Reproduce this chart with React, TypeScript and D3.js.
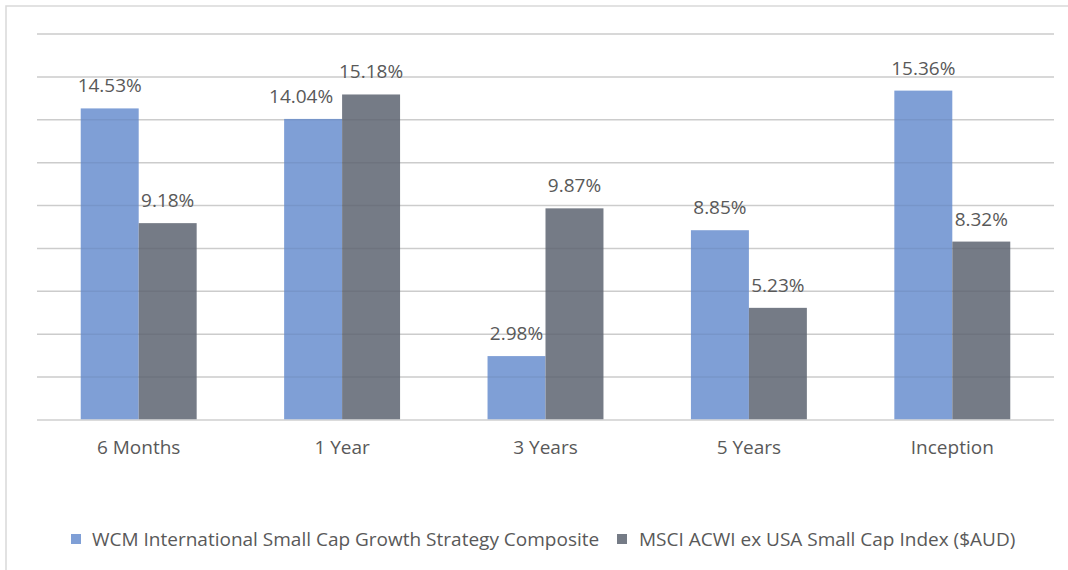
import React from "react";
import * as d3 from "d3";

const categories = ["6 Months", "1 Year", "3 Years", "5 Years", "Inception"];
const seriesNames = [
  "WCM International Small Cap Growth Strategy Composite",
  "MSCI ACWI ex USA Small Cap Index ($AUD)",
];
const wcmValues = [14.53, 14.04, 2.98, 8.85, 15.36];
const msciValues = [9.18, 15.18, 9.87, 5.23, 8.32];
const yTicks = [0, 2, 4, 6, 8, 10, 12, 14, 16, 18];
const colors = ["#7F9FD6", "#757B86"];

const W = 1068;
const H = 570;
const FONT = "'Open Sans', sans-serif";
const TEXT = "#595959";

export default function App() {
  const plotLeft = 37;
  const plotRight = 1054;
  const plotTop = 34;
  const plotBottom = 420;

  const x = d3
    .scaleBand<string>()
    .domain(categories)
    .range([plotLeft, plotRight])
    .paddingInner(0.43)
    .paddingOuter(0.215);
  const xs = d3.scaleBand<number>().domain([0, 1]).range([0, x.bandwidth()]);
  const y = d3.scaleLinear().domain([0, 18]).range([plotBottom, plotTop]);

  const series = [wcmValues, msciValues];

  const legendItems = [
    { sq: 71, tx: 92 },
    { sq: 617, tx: 639 },
  ];

  // simple collision avoidance: shift first-series label left when the neighbouring bar top cuts through it
  const labelShift = (si: number, i: number) => {
    if (si !== 0) return 0;
    const labelBaseline = y(wcmValues[i]) - 16;
    const otherTop = y(msciValues[i]);
    return otherTop < labelBaseline && otherTop > labelBaseline - 20 ? -12 : 0;
  };

  return (
    <svg
      width={W}
      height={H}
      style={{ position: "absolute", left: 0, top: 0, background: "#fff" }}
      fontFamily={FONT}
    >
      <rect x={6} y={6} width={W + 20} height={H + 20} fill="#fff" stroke="#D9D9D9" strokeWidth={1.5} />
      {yTicks.map((t) => (
        <line key={"g" + t} x1={plotLeft} x2={plotRight} y1={y(t)} y2={y(t)} stroke="#D9D9D9" strokeWidth={1.5} />
      ))}
      {series.map((vals, si) =>
        vals.map((v, i) => (
          <rect
            key={`b${si}-${i}`}
            x={(x(categories[i]) as number) + (xs(si) as number)}
            y={y(v)}
            width={xs.bandwidth()}
            height={y(0) - y(v)}
            fill={colors[si]}
          />
        ))
      )}
      {yTicks.slice(1).map((t) => (
        <line key={"o" + t} x1={plotLeft} x2={plotRight} y1={y(t)} y2={y(t)} stroke="#000" strokeOpacity={0.06} strokeWidth={1.5} />
      ))}
      <line x1={plotLeft} x2={plotRight} y1={y(0)} y2={y(0)} stroke="#D9D9D9" strokeWidth={1.5} />
      {series.map((vals, si) =>
        vals.map((v, i) => (
          <text
            key={`l${si}-${i}`}
            x={(x(categories[i]) as number) + (xs(si) as number) + xs.bandwidth() / 2 + labelShift(si, i)}
            y={y(v) - 16}
            textAnchor="middle"
            fontSize={19}
            fill={TEXT}
          >
            {v.toFixed(2) + "%"}
          </text>
        ))
      )}
      {categories.map((c) => (
        <text
          key={"c" + c}
          x={(x(c) as number) + x.bandwidth() / 2}
          y={454}
          textAnchor="middle"
          fontSize={19}
          fill={TEXT}
        >
          {c}
        </text>
      ))}
      {seriesNames.map((n, i) => (
        <g key={"lg" + i}>
          <rect x={legendItems[i].sq} y={534} width={10} height={10} fill={colors[i]} />
          <text x={legendItems[i].tx} y={546} fontSize={19} fill={TEXT}>
            {n}
          </text>
        </g>
      ))}
    </svg>
  );
}
